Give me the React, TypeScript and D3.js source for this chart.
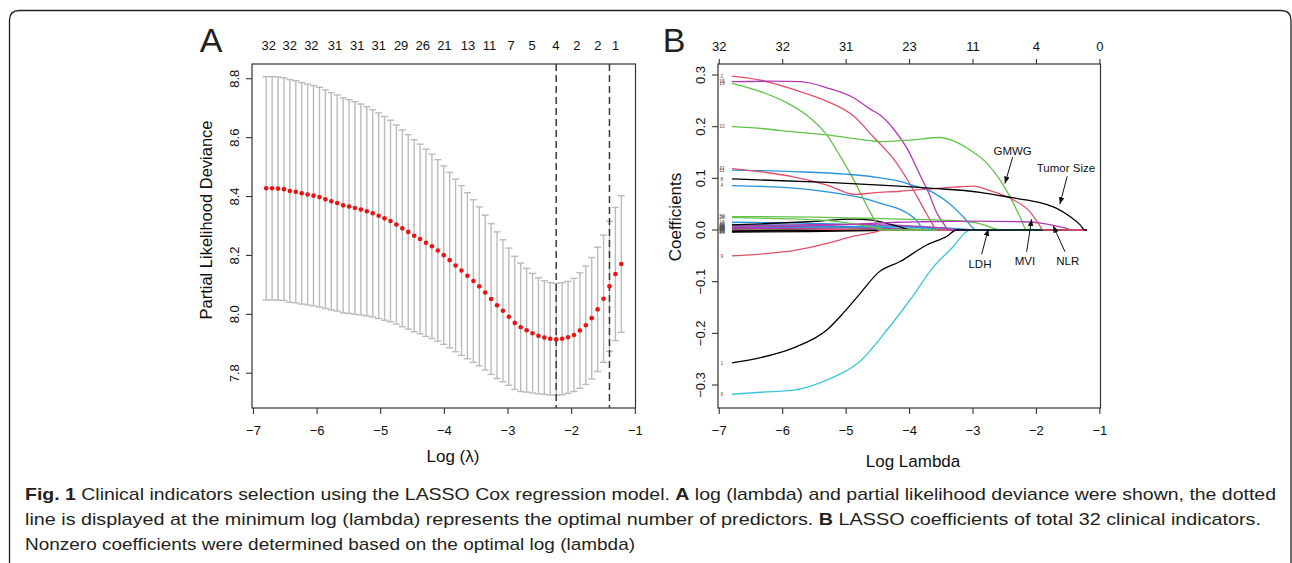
import * as d3 from "d3";

// ---- Panel A: cross-validation curve ----
const LOG_LAMBDA = [
  -6.8, -6.707, -6.614, -6.521, -6.428, -6.335, -6.242, -6.149, -6.056, -5.963,
  -5.87, -5.777, -5.684, -5.591, -5.498, -5.405, -5.312, -5.219, -5.126, -5.033,
  -4.94, -4.847, -4.754, -4.661, -4.568, -4.475, -4.382, -4.289, -4.196, -4.103,
  -4.01, -3.917, -3.824, -3.731, -3.638, -3.545, -3.452, -3.359, -3.266, -3.173,
  -3.08, -2.987, -2.894, -2.801, -2.708, -2.615, -2.522, -2.429, -2.336, -2.243,
  -2.15, -2.057, -1.964, -1.871, -1.778, -1.685, -1.592, -1.499, -1.406, -1.313,
  -1.22,
];

const CV_MEAN = [
  8.428, 8.428, 8.427, 8.425, 8.419, 8.416, 8.411, 8.407, 8.403, 8.398,
  8.391, 8.384, 8.378, 8.37, 8.366, 8.361, 8.356, 8.35, 8.343, 8.335,
  8.326, 8.317, 8.305, 8.292, 8.28, 8.267, 8.256, 8.243, 8.231, 8.217,
  8.201, 8.184, 8.166, 8.149, 8.131, 8.113, 8.095, 8.074, 8.052, 8.031,
  8.012, 7.992, 7.971, 7.956, 7.946, 7.936, 7.927, 7.921, 7.917, 7.915,
  7.917, 7.922, 7.93, 7.945, 7.963, 7.987, 8.017, 8.053, 8.095, 8.137,
  8.171,
];

const CV_SD = [
  0.379, 0.379, 0.379, 0.378, 0.378, 0.377, 0.376, 0.375, 0.374, 0.373,
  0.371, 0.369, 0.367, 0.365, 0.363, 0.361, 0.358, 0.355, 0.352, 0.349,
  0.346, 0.342, 0.338, 0.334, 0.33, 0.326, 0.322, 0.318, 0.313, 0.308,
  0.303, 0.298, 0.293, 0.288, 0.282, 0.276, 0.27, 0.263, 0.256, 0.249,
  0.241, 0.233, 0.226, 0.218, 0.21, 0.203, 0.197, 0.193, 0.191, 0.19,
  0.19, 0.19, 0.192, 0.196, 0.201, 0.206, 0.211, 0.216, 0.221, 0.226,
  0.232,
];

const LAMBDA_MIN = -2.243;
const LAMBDA_1SE = -1.406;

const TOP_A_LABELS = ["32", "32", "32", "31", "31", "31", "29", "26", "21", "13", "11", "7", "5", "4", "2", "2", "1"];
const TOP_A_AT = [-6.76, -6.43, -6.09, -5.72, -5.37, -5.03, -4.68, -4.34, -4.0, -3.63, -3.29, -2.95, -2.62, -2.25, -1.92, -1.59, -1.31];

const X_TICKS = [-7, -6, -5, -4, -3, -2, -1];
const Y_TICKS_A = [7.8, 8.0, 8.2, 8.4, 8.6, 8.8];

// ---- Panel B: coefficient paths ----
const Y_TICKS_B = [-0.3, -0.2, -0.1, 0.0, 0.1, 0.2, 0.3];
const TOP_B_LABELS = ["32", "32", "31", "23", "11", "4", "0"];

type Knot = [number, number];

// variable number, palette key, knots (log lambda, coefficient)
const COEF_VARS = [
  "7", "14", "21", "24", "26", "32", "13", "20", "29", "17", "27", "5", "22", "25", "16", "23", "18", "3",
  "28", "9", "4", "19", "2", "15", "11", "10", "30", "6", "1", "12", "31", "8",
];
const COEF_COLORS = [
  "red", "black", "magenta", "red", "black", "black", "green", "red", "black", "cyan", "cyan", "blue", "green", "magenta", "blue", "blue", "magenta", "black",
  "green", "red", "blue", "green", "red", "magenta", "blue", "green", "green", "cyan", "black", "magenta", "red", "black",
];
const COEF_KNOTS: Knot[][] = [
  [[-6.8, 0.001], [-6.2, 0], [-1.21, 0]],
  [[-6.8, 0.001], [-6.4, 0], [-1.21, 0]],
  [[-6.8, -0.001], [-6.0, 0], [-1.21, 0]],
  [[-6.8, 0.002], [-5.8, 0.001], [-5.3, 0], [-1.21, 0]],
  [[-6.8, -0.002], [-6.0, -0.001], [-5.4, 0], [-1.21, 0]],
  [[-6.8, -0.003], [-6.2, -0.001], [-5.8, 0], [-1.21, 0]],
  [[-6.8, 0.002], [-5.4, 0.002], [-4.8, 0], [-1.21, 0]],
  [[-6.8, 0.004], [-6.0, 0.003], [-5.2, 0.001], [-4.7, 0], [-1.21, 0]],
  [[-6.8, -0.004], [-5.6, -0.003], [-4.6, -0.001], [-4.2, 0], [-1.21, 0]],
  [[-6.8, 0.011], [-6.0, 0.01], [-5.2, 0.007], [-4.6, 0.003], [-4.2, 0], [-1.21, 0]],
  [[-6.8, 0.007], [-5.5, 0.006], [-4.4, 0.003], [-3.9, 0], [-1.21, 0]],
  [[-6.8, 0.009], [-5.5, 0.008], [-4.3, 0.004], [-3.6, 0], [-1.21, 0]],
  [[-6.8, 0.006], [-5.5, 0.005], [-4.5, 0.003], [-3.6, 0.001], [-3.2, 0], [-1.21, 0]],
  [[-6.8, 0.003], [-5.0, 0.004], [-4.2, 0.002], [-3.7, 0], [-1.21, 0]],
  [[-6.8, 0.015], [-6.0, 0.014], [-5.2, 0.012], [-4.5, 0.009], [-3.9, 0.005], [-3.5, 0.002], [-3.3, 0], [-1.21, 0]],
  [[-6.8, 0.005], [-5.0, 0.006], [-4.0, 0.006], [-3.3, 0.003], [-2.92, 0], [-1.21, 0]],
  [[-6.8, 0.008], [-5.8, 0.01], [-4.8, 0.011], [-4.0, 0.008], [-3.5, 0.004], [-3.2, 0], [-1.21, 0]],
  [[-6.8, 0.01], [-6.35, 0.012], [-5.6, 0.016], [-4.88, 0.021], [-4.6, 0.019], [-4.36, 0.013], [-4.15, 0.006], [-3.99, 0], [-1.21, 0]],
  [[-6.8, 0.024], [-6.0, 0.022], [-5.2, 0.017], [-4.7, 0.008], [-4.3, 0], [-1.21, 0]],
  [[-6.8, -0.05], [-6.3, -0.046], [-5.83, -0.04], [-5.3, -0.026], [-4.885, -0.012], [-4.52, -0.003], [-4.44, 0], [-1.21, 0]],
  [[-6.8, 0.086], [-5.83, 0.081], [-5.3, 0.074], [-4.78, 0.063], [-4.36, 0.048], [-4.15, 0.04], [-3.89, 0.019], [-3.76, 0], [-1.21, 0]],
  [[-6.8, 0.284], [-6.35, 0.268], [-5.93, 0.246], [-5.62, 0.222], [-5.3, 0.183], [-5.095, 0.143], [-4.885, 0.098], [-4.67, 0.046], [-4.52, 0.013], [-4.44, 0], [-1.21, 0]],
  [[-6.8, 0.298], [-6.35, 0.29], [-5.83, 0.272], [-5.3, 0.249], [-4.885, 0.221], [-4.57, 0.18], [-4.255, 0.138], [-3.99, 0.088], [-3.78, 0.042], [-3.65, 0.014], [-3.57, 0], [-1.21, 0]],
  [[-6.8, 0.287], [-6.2, 0.288], [-5.72, 0.287], [-5.3, 0.275], [-4.885, 0.256], [-4.62, 0.234], [-4.46, 0.222], [-4.255, 0.196], [-4.04, 0.158], [-3.83, 0.105], [-3.7, 0.072], [-3.57, 0.033], [-3.46, 0.012], [-3.39, 0], [-1.21, 0]],
  [[-6.8, 0.116], [-5.83, 0.113], [-4.99, 0.108], [-4.52, 0.102], [-4.15, 0.094], [-3.99, 0.088], [-3.62, 0.072], [-3.36, 0.05], [-3.15, 0.025], [-2.94, 0], [-1.21, 0]],
  [[-6.8, 0.2], [-6.3, 0.196], [-5.83, 0.19], [-5.3, 0.184], [-4.99, 0.179], [-4.62, 0.173], [-4.46, 0.171], [-4.15, 0.173], [-3.99, 0.174], [-3.52, 0.179], [-3.3, 0.172], [-3.05, 0.155], [-2.78, 0.129], [-2.575, 0.097], [-2.42, 0.065], [-2.26, 0.026], [-2.155, 0], [-1.21, 0]],
  [[-6.8, 0.026], [-5.5, 0.025], [-4.15, 0.021], [-3.5, 0.019], [-3.0, 0.015], [-2.78, 0.008], [-2.57, 0], [-1.21, 0]],
  [[-6.8, -0.318], [-6.35, -0.314], [-5.83, -0.31], [-5.3, -0.29], [-4.78, -0.254], [-4.36, -0.194], [-3.99, -0.135], [-3.62, -0.071], [-3.31, -0.032], [-3.1, -0.003], [-3.05, 0], [-1.21, 0]],
  [[-6.8, -0.257], [-6.35, -0.247], [-5.83, -0.228], [-5.3, -0.193], [-5.04, -0.16], [-4.78, -0.123], [-4.49, -0.082], [-4.15, -0.061], [-3.73, -0.029], [-3.41, -0.012], [-3.26, 0], [-1.21, 0]],
  [[-6.8, 0.005], [-5.8, 0.007], [-4.9, 0.011], [-4.2, 0.015], [-3.8, 0.016], [-3.0, 0.017], [-2.2, 0.016], [-1.9, 0.013], [-1.73, 0.009], [-1.55, 0.004], [-1.42, 0], [-1.21, 0]],
  [[-6.8, 0.119], [-6.3, 0.112], [-5.83, 0.103], [-5.3, 0.087], [-4.86, 0.069], [-4.57, 0.072], [-4.15, 0.075], [-3.73, 0.079], [-3.3, 0.083], [-3.0, 0.085], [-2.73, 0.076], [-2.36, 0.058], [-2.1, 0.035], [-1.97, 0.013], [-1.89, 0], [-1.21, 0]],
  [[-6.8, 0.099], [-5.3, 0.092], [-4.46, 0.087], [-3.68, 0.081], [-2.89, 0.073], [-2.36, 0.062], [-1.945, 0.053], [-1.68, 0.042], [-1.47, 0.026], [-1.31, 0.01], [-1.24, 0], [-1.21, 0]],
];

const ANNOT_TEXT = ["GMWG", "Tumor Size", "LDH", "MVI", "NLR"];
// text anchor, arrow tail, arrow tip (log lambda, coefficient)
const ANNOT_TEXT_AT: Knot[] = [[-2.375, 0.152], [-1.535, 0.12], [-2.89, -0.066], [-2.181, -0.06], [-1.507, -0.06]];
const ANNOT_TAIL: Knot[] = [[-2.375, 0.141], [-1.515, 0.104], [-2.863, -0.047], [-2.154, -0.042], [-1.55, -0.042]];
const ANNOT_TIP: Knot[] = [[-2.496, 0.09], [-1.63, 0.05], [-2.76, 0.002], [-2.076, 0.021], [-1.735, 0.008]];

const PALETTE: Record<string, string> = {
  black: "#000000",
  red: "#E2506A",
  green: "#62C34B",
  blue: "#2793DF",
  cyan: "#3FC6D6",
  magenta: "#B03AB4",
};

const FONT = "'Liberation Sans', Arial, Helvetica, sans-serif";
const INK = "#231F20";

export default function App() {
  const xA = d3.scaleLinear().domain([-7.023, -0.997]).range([252, 635.5]);
  const yA = d3.scaleLinear().domain([7.682, 8.85]).range([408, 64]);
  const xB = d3.scaleLinear().domain([-7.02, -0.99]).range([718, 1100.5]);
  const yB = d3.scaleLinear().domain([-0.3445, 0.3213]).range([408, 64]);

  const capW = 0.056;
  const path = d3
    .line<Knot>()
    .x((d) => xB(d[0]))
    .y((d) => yB(d[1]))
    .curve(d3.curveMonotoneX);

  const fmtX = (v: number) => (v < 0 ? "\u2212" + Math.abs(v) : String(v));
  const fmtB = (v: number) => (v < 0 ? "\u2212" + Math.abs(v).toFixed(1) : v.toFixed(1));

  return (
    <div>
      <style>{"body{margin:0}"}</style>
      <svg width={1292} height={563} style={{ display: "block", background: "#fff" }} fontFamily={FONT}>
        <defs>
          <marker id="arr" viewBox="0 0 10 10" refX="10" refY="5" markerWidth="7" markerHeight="7" orient="auto-start-reverse" markerUnits="userSpaceOnUse">
            <path d="M0,1 L10,5 L0,9 Z" fill="#111" />
          </marker>
        </defs>

        {/* outer frame */}
        <path d="M9.5,620 L9.5,20 Q9.5,10.5 19.5,10.5 L1281,10.5 Q1291,10.5 1291,20 L1291,620" fill="none" stroke={INK} strokeWidth={1.3} />

        {/* ================= Panel A ================= */}
        <text x={211} y={52} fontSize={34} fill={INK} textAnchor="middle">A</text>

        {/* error bars */}
        <g stroke="#BBBBBB" strokeWidth={1.4}>
          {LOG_LAMBDA.map((l, i) => {
            const hi = yA(CV_MEAN[i] + CV_SD[i]);
            const lo = yA(CV_MEAN[i] - CV_SD[i]);
            return (
              <g key={i}>
                <line x1={xA(l)} x2={xA(l)} y1={hi} y2={lo} />
                <line x1={xA(l - capW)} x2={xA(l + capW)} y1={hi} y2={hi} />
                <line x1={xA(l - capW)} x2={xA(l + capW)} y1={lo} y2={lo} />
              </g>
            );
          })}
        </g>
        {/* dashed reference lines */}
        {[LAMBDA_MIN, LAMBDA_1SE].map((v, i) => (
          <line key={i} x1={xA(v)} x2={xA(v)} y1={64} y2={408} stroke="#3a3a3a" strokeWidth={1.5} strokeDasharray="7,4" />
        ))}
        {/* mean points */}
        <g fill="#EE1111">
          {LOG_LAMBDA.map((l, i) => (
            <circle key={i} cx={xA(l)} cy={yA(CV_MEAN[i])} r={2.3} />
          ))}
        </g>

        <rect x={252} y={64} width={383.5} height={344} fill="none" stroke="#333" strokeWidth={1.2} />

        {/* axes A */}
        <g stroke="#333" strokeWidth={1.1}>
          {X_TICKS.map((t) => (
            <line key={t} x1={xA(t)} x2={xA(t)} y1={408} y2={414} />
          ))}
          {Y_TICKS_A.map((t) => (
            <line key={t} x1={246} x2={252} y1={yA(t)} y2={yA(t)} />
          ))}
        </g>
        <g fontSize={13} fill="#111" textAnchor="middle">
          {X_TICKS.map((t) => (
            <text key={t} x={xA(t)} y={435}>{fmtX(t)}</text>
          ))}
          {Y_TICKS_A.map((t) => (
            <text key={t} transform={`translate(234,${yA(t)}) rotate(-90)`} dy="0.35em">{t.toFixed(1)}</text>
          ))}
          {TOP_A_LABELS.map((s, i) => (
            <text key={i} x={xA(TOP_A_AT[i])} y={50}>{s}</text>
          ))}
        </g>
        <text transform="translate(206,220) rotate(-90)" dy="0.35em" textAnchor="middle" fontSize={16.5} fill="#111">Partial Likelihood Deviance</text>
        <text x={453} y={462} textAnchor="middle" fontSize={17} fill="#111">Log (λ)</text>

        {/* ================= Panel B ================= */}
        <text x={674} y={52} fontSize={34} fill={INK} textAnchor="middle">B</text>

        <g fill="none" strokeWidth={1.3}>
          {COEF_KNOTS.map((k, i) => (
            <path key={i} d={path(k) ?? ""} stroke={PALETTE[COEF_COLORS[i]]} />
          ))}
        </g>
        <g fontSize={5} fill="#555" textAnchor="middle">
          {COEF_KNOTS.map((k, i) => (
            <text key={i} x={xB(k[0][0]) - 10} y={yB(k[0][1])} dy="0.35em">{COEF_VARS[i]}</text>
          ))}
        </g>

        {/* annotations */}
        <g fontSize={11.5} fill="#111" textAnchor="middle">
          {ANNOT_TEXT.map((s, i) => (
            <g key={s}>
              <text x={xB(ANNOT_TEXT_AT[i][0])} y={yB(ANNOT_TEXT_AT[i][1])} dy="0.35em">{s}</text>
              <line
                x1={xB(ANNOT_TAIL[i][0])}
                y1={yB(ANNOT_TAIL[i][1])}
                x2={xB(ANNOT_TIP[i][0])}
                y2={yB(ANNOT_TIP[i][1])}
                stroke="#111"
                strokeWidth={1}
                markerEnd="url(#arr)"
              />
            </g>
          ))}
        </g>

        <rect x={718} y={64} width={382.5} height={344} fill="none" stroke="#333" strokeWidth={1.2} />

        <g stroke="#333" strokeWidth={1.1}>
          {X_TICKS.map((t) => (
            <line key={"b" + t} x1={xB(t)} x2={xB(t)} y1={408} y2={414} />
          ))}
          {X_TICKS.map((t) => (
            <line key={"t" + t} x1={xB(t)} x2={xB(t)} y1={59} y2={64} />
          ))}
          {Y_TICKS_B.map((t) => (
            <line key={t} x1={712} x2={718} y1={yB(t)} y2={yB(t)} />
          ))}
        </g>
        <g fontSize={13} fill="#111" textAnchor="middle">
          {X_TICKS.map((t) => (
            <text key={t} x={xB(t)} y={435}>{fmtX(t)}</text>
          ))}
          {X_TICKS.map((t, i) => (
            <text key={"top" + t} x={xB(t)} y={51}>{TOP_B_LABELS[i]}</text>
          ))}
          {Y_TICKS_B.map((t) => (
            <text key={t} transform={`translate(700,${yB(t)}) rotate(-90)`} dy="0.35em">{fmtB(t)}</text>
          ))}
        </g>
        <text transform="translate(675,217) rotate(-90)" dy="0.35em" textAnchor="middle" fontSize={17} fill="#111">Coefficients</text>
        <text x={913} y={467} textAnchor="middle" fontSize={17} fill="#111">Log Lambda</text>

        {/* ================= Caption ================= */}
        <g fontSize={17} fill={INK}>
          <text x={25} y={500} textLength={1251} lengthAdjust="spacingAndGlyphs">
            <tspan fontWeight="bold">Fig. 1</tspan> Clinical indicators selection using the LASSO Cox regression model.{" "}
            <tspan fontWeight="bold">A</tspan> log (lambda) and partial likelihood deviance were shown, the dotted
          </text>
          <text x={25} y={525} textLength={1236} lengthAdjust="spacingAndGlyphs">
            line is displayed at the minimum log (lambda) represents the optimal number of predictors.{" "}
            <tspan fontWeight="bold">B</tspan> LASSO coefficients of total 32 clinical indicators.
          </text>
          <text x={25} y={550} textLength={610} lengthAdjust="spacingAndGlyphs">
            Nonzero coefficients were determined based on the optimal log (lambda)
          </text>
        </g>
      </svg>
    </div>
  );
}
